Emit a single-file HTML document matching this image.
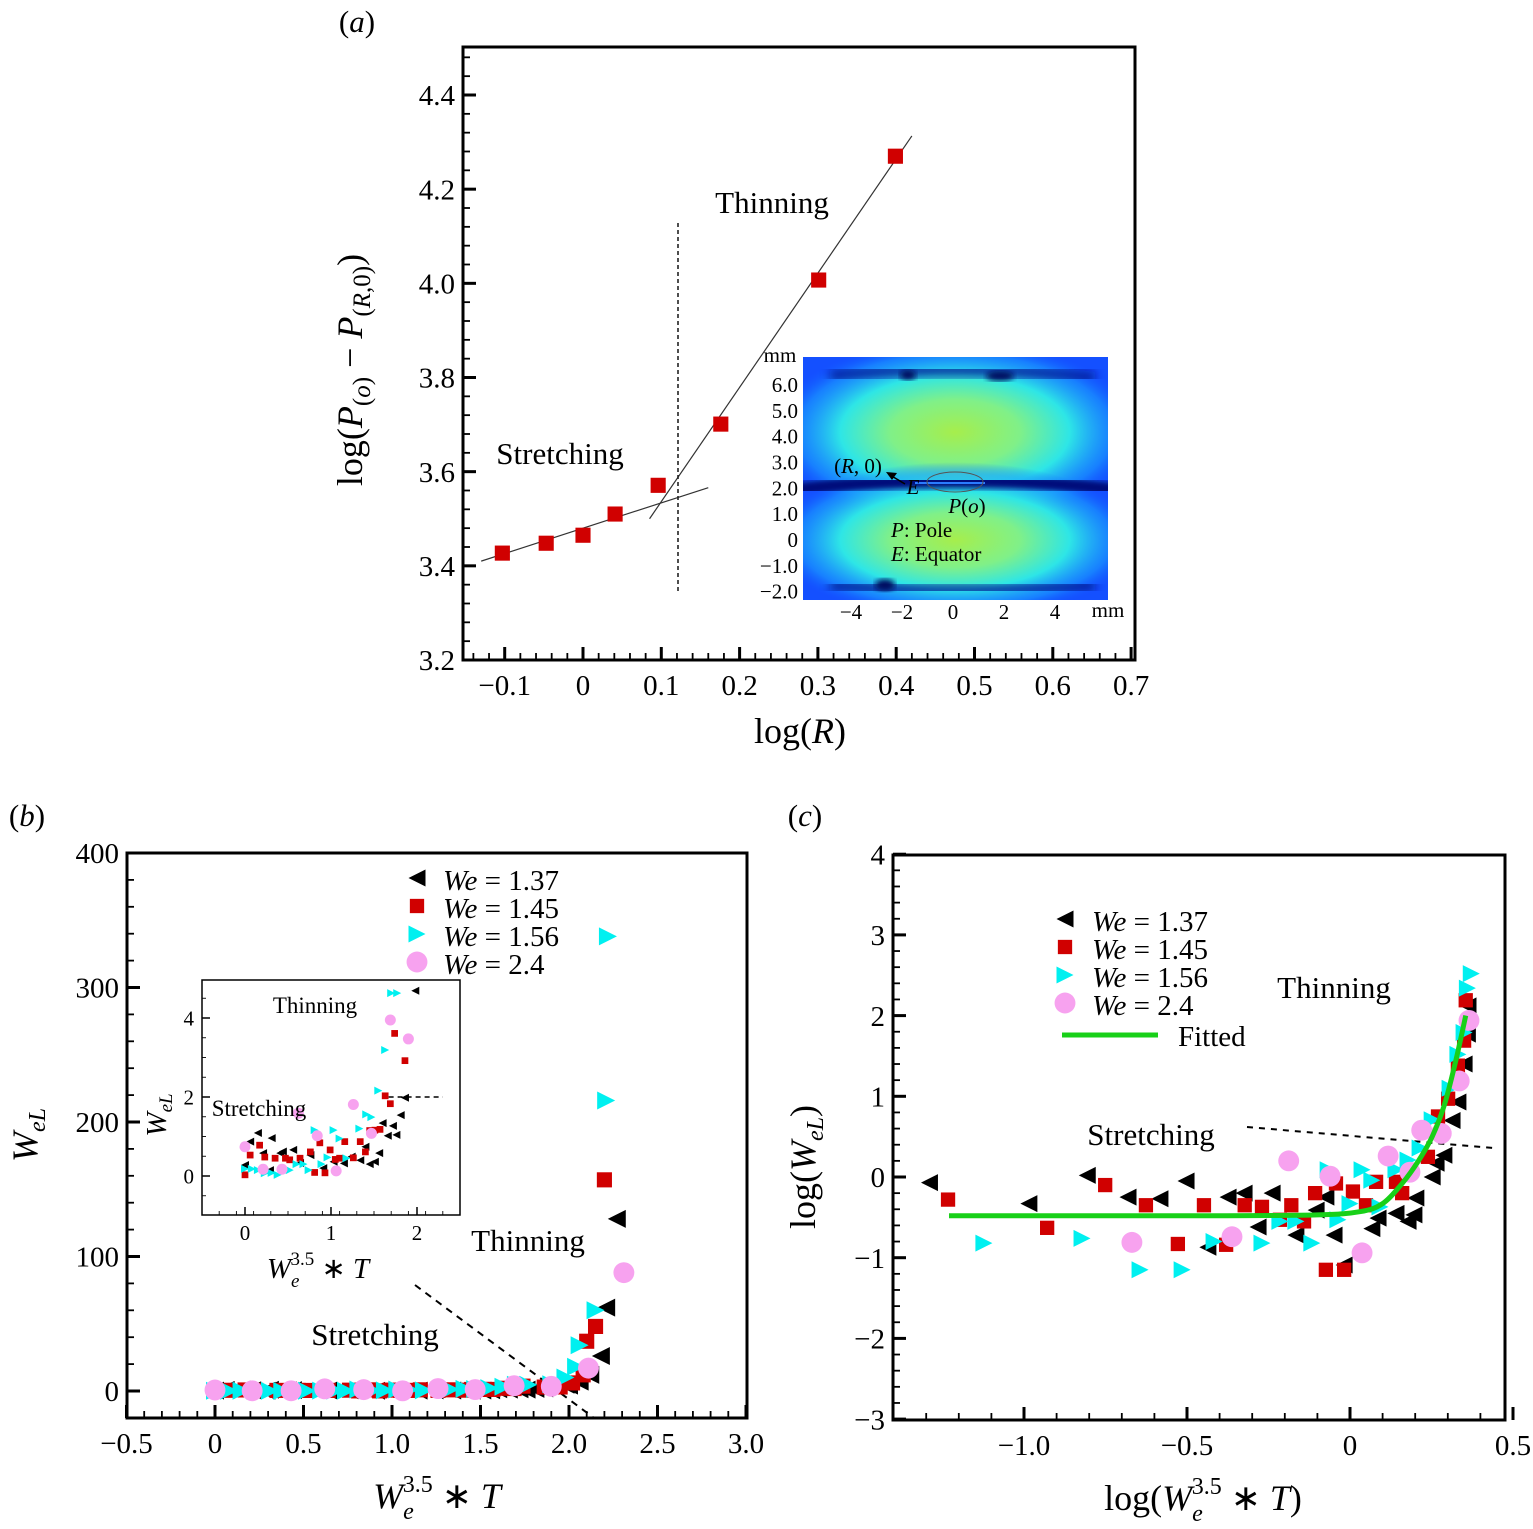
<!DOCTYPE html>
<html><head><meta charset="utf-8"><style>
html,body{margin:0;padding:0;background:#fff}
svg{display:block;font-family:"Liberation Serif",serif}
</style></head><body>
<svg id="fig" width="1533" height="1529" viewBox="0 0 1533 1529" xmlns="http://www.w3.org/2000/svg">
<defs>
<radialGradient id="lobe" cx="50%" cy="50%" r="50%">
<stop offset="0" stop-color="#a6ee4c"/><stop offset="0.35" stop-color="#80f088"/><stop offset="0.62" stop-color="#2ee6e6"/><stop offset="0.85" stop-color="#1aa0ff" stop-opacity="0.6"/><stop offset="1" stop-color="#1060ff" stop-opacity="0"/>
</radialGradient>
<filter id="blur"><feGaussianBlur stdDeviation="3"/></filter>
<filter id="blur2"><feGaussianBlur stdDeviation="5"/></filter>
<clipPath id="clipInset"><rect x="803" y="357" width="305" height="243"/></clipPath>
</defs>
<g id="root"></g>
</svg>
<script>
// ---------- Panel (a) data ----------
const aLogR = [-0.103, -0.047, 0, 0.041, 0.096, 0.176, 0.301, 0.399];
const aLogP = [3.427, 3.448, 3.465, 3.510, 3.571, 3.701, 4.007, 4.270];
const aXTicks = [-0.1, 0, 0.1, 0.2, 0.3, 0.4, 0.5, 0.6, 0.7];
const aXTickLabels = ["\u22120.1","0","0.1","0.2","0.3","0.4","0.5","0.6","0.7"];
const aYTicks = [3.2, 3.4, 3.6, 3.8, 4.0, 4.2, 4.4];
const aYTickLabels = ["3.2","3.4","3.6","3.8","4.0","4.2","4.4"];
const aStretchFit = [[-0.13, 3.41], [0.16, 3.566]];
const aThinFit = [[0.085, 3.50], [0.42, 4.313]];
// ---------- Panel (b) data ----------
const bXTicks = [-0.5, 0, 0.5, 1.0, 1.5, 2.0, 2.5, 3.0];
const bXTickLabels = ["\u22120.5","0","0.5","1.0","1.5","2.0","2.5","3.0"];
const bYTicks = [0, 100, 200, 300, 400];
const bYTickLabels = ["0","100","200","300","400"];
const b137x = [0,0.06,0.15,0.21,0.29,0.31,0.41,0.44,0.56,0.64,0.76,0.91,1.03,1.15,1.24,1.34,1.40,1.45,1.51,1.56,1.60,1.66,1.72,1.76,1.81,1.86,1.98];
const b137y = [0.28,0.87,1.09,0.58,0.15,0.96,0.58,0.62,0.66,0.33,0.53,0.20,0.36,0.32,0.49,0.40,0.74,0.30,0.36,0.58,1.34,1.02,1.27,1.04,1.54,1.98,4.69];
const b145x = [0,0.06,0.17,0.23,0.35,0.47,0.52,0.64,0.76,0.87,0.81,0.93,0.99,1.05,1.10,1.16,1.26,1.34,1.40,1.45,1.51,1.57,1.63,1.69,1.74,1.86];
const b145y = [0.03,0.53,0.78,0.48,0.45,0.45,0.41,0.45,0.61,0.84,0.09,0.08,0.66,0.42,0.45,0.87,0.46,0.87,0.61,1.15,1.16,1.18,2.03,1.83,3.61,2.92];
const b156x = [0,0.08,0.15,0.23,0.31,0.38,0.52,0.60,0.68,0.74,0.89,0.81,0.96,1.03,1.10,1.18,1.33,1.41,1.47,1.55,1.63,1.70,1.77];
const b156y = [0.18,0.18,0.15,0.07,0.08,0.03,0.15,0.30,0.30,0.15,0.30,1.16,0.47,1.16,0.95,0.45,1.20,1.56,1.49,2.16,3.19,4.63,4.63];
const b24x = [0,0.21,0.43,0.62,0.84,1.06,1.26,1.47,1.69,1.90];
const b24y = [0.74,0.17,0.17,1.59,1.02,0.13,1.81,1.08,3.95,3.47];
const bHi137x = [2.0,2.06,2.12,2.18,2.21,2.27], bHi137y = [4,7,12,26,62,128];
const bHi145x = [1.95,2.02,2.08,2.10,2.15,2.20], bHi145y = [3,6,12,37,48,157];
const bHi156x = [1.90,1.98,2.04,2.06,2.15,2.21,2.22], bHi156y = [5,10,18,34,60,216,338];
const bHi24x = [2.11,2.31], bHi24y = [17,88];
const bInXTicks=[0,1,2], bInYTicks=[0,2,4];
// ---------- Panel (c) data ----------
const cXTicks = [-1.0, -0.5, 0, 0.5];
const cXTickLabels = ["\u22121.0","\u22120.5","0","0.5"];
const cYTicks = [-3,-2,-1,0,1,2,3,4];
const cYTickLabels = ["\u22123","\u22122","\u22121","0","1","2","3","4"];
const c137x = [-1.29,-0.985,-0.806,-0.681,-0.583,-0.503,-0.374,-0.325,-0.239,-0.436,-0.282,-0.166,-0.104,-0.074,-0.049,-0.018,0.067,0.086,0.141,0.178,0.196,0.202,0.252,0.264,0.288,0.313,0.331,0.35,0.36,0.362];
const c137y = [-0.07,-0.33,0.02,-0.25,-0.27,-0.05,-0.25,-0.20,-0.20,-0.87,-0.62,-0.72,-0.41,-0.25,-0.72,-1.09,-0.64,-0.51,-0.45,-0.55,-0.47,-0.26,0.00,0.17,0.27,0.70,0.93,1.40,1.77,2.12];
const c145x = [-1.233,-0.929,-0.751,-0.626,-0.528,-0.448,-0.380,-0.323,-0.270,-0.215,-0.180,-0.141,-0.107,-0.074,-0.043,-0.018,0.009,0.049,0.080,0.141,0.160,0.239,0.270,0.301,0.331,0.350,0.355];
const c145y = [-0.28,-0.63,-0.10,-0.35,-0.83,-0.35,-0.84,-0.35,-0.37,-0.53,-0.35,-0.55,-0.20,-1.15,-0.08,-1.15,-0.18,-0.35,-0.06,-0.06,-0.20,0.25,0.75,0.97,1.38,1.69,2.19];
const c156x = [-1.123,-0.822,-0.644,-0.515,-0.417,-0.270,-0.215,-0.166,-0.117,-0.067,-0.037,0.000,0.037,0.067,0.092,0.141,0.178,0.215,0.252,0.307,0.331,0.350,0.360,0.372];
const c156y = [-0.82,-0.76,-1.15,-1.15,-0.80,-0.82,-0.55,-0.55,-0.82,0.09,-0.53,-0.33,0.09,-0.04,-0.37,0.09,0.21,0.36,0.71,1.10,1.52,1.79,2.34,2.52];
const c24x = [-0.669,-0.362,-0.188,-0.061,0.037,0.117,0.184,0.220,0.280,0.335,0.365];
const c24y = [-0.81,-0.74,0.20,0.01,-0.94,0.26,0.06,0.58,0.54,1.19,1.94];
const cFitX = [-1.23,-0.4,-0.1,0.03,0.1,0.16,0.21,0.252,0.29,0.325,0.355];
const cFitY = [-0.48,-0.48,-0.47,-0.43,-0.33,-0.08,0.2,0.50,0.9,1.45,2.0];

const NS="http://www.w3.org/2000/svg";
const root=document.getElementById('root');
function mk(tag,attrs,parent){const e=document.createElementNS(NS,tag);for(const k in attrs)e.setAttribute(k,attrs[k]);(parent||root).appendChild(e);return e;}
function lin(d0,d1,p0,p1){return v=>p0+(v-d0)*(p1-p0)/(d1-d0);}
function txt(x,y,s,size,anchor,parent,name){const t=mk('text',{x:x,y:y,'font-size':size,'text-anchor':anchor||'middle',fill:'#000'},parent);t.textContent=s;


return t;}

function axes(g,box,X,Y,xt,xl,yt,yl,xMinor,yMinor,fs,majL,minL,lw,name){
  const fr=mk('rect',{x:box.x0,y:box.y0,width:box.x1-box.x0,height:box.y1-box.y0,fill:'none',stroke:'#000','stroke-width':lw},g);
  
  
  xt.forEach((v,i)=>{const px=X(v);mk('line',{x1:px,x2:px,y1:box.y1,y2:box.y1-majL,stroke:'#000','stroke-width':lw},g);
    if(xl) txt(px,box.y1+fs*1.2,xl[i],fs,'middle',g,name+'-x-tick-label');});
  yt.forEach((v,i)=>{const py=Y(v);mk('line',{x1:box.x0,x2:box.x0+majL,y1:py,y2:py,stroke:'#000','stroke-width':lw},g);
    if(yl) txt(box.x0-8,py+fs*0.35,yl[i],fs,'end',g,name+'-y-tick-label');});
  xMinor.forEach(v=>{const px=X(v);if(px>box.x0+1&&px<box.x1-1)mk('line',{x1:px,x2:px,y1:box.y1,y2:box.y1-minL,stroke:'#000','stroke-width':lw*0.6},g);});
  yMinor.forEach(v=>{const py=Y(v);if(py>box.y0+1&&py<box.y1-1)mk('line',{x1:box.x0,x2:box.x0+minL,y1:py,y2:py,stroke:'#000','stroke-width':lw*0.6},g);});
}
function range(a,b,s){const r=[];for(let v=a;v<=b+1e-9;v+=s)r.push(+v.toFixed(6));return r;}
function weT(fs,sub){ // W_e^{3.5} * T with stacked sub/superscript
  const d=Math.round(fs*0.3), u=Math.round(fs*0.75), w=Math.round(sub*0.45);
  return `<tspan font-style="italic">W</tspan><tspan font-style="italic" font-size="${sub}" dy="${d}">e</tspan><tspan font-size="${sub}" dx="-${w}" dy="-${u}">3.5</tspan><tspan dy="${u-d}"> \u2217 </tspan><tspan font-style="italic">T</tspan>`;
}

function marker(g,type,x,y,s,name){
  let e;
  if(type==='L') e=mk('polygon',{points:`${x-s/2},${y} ${x+s/2},${y-s/2} ${x+s/2},${y+s/2}`,fill:'#000'},g);
  else if(type==='R') e=mk('polygon',{points:`${x+s/2},${y} ${x-s/2},${y-s/2} ${x-s/2},${y+s/2}`,fill:'#00f0f0'},g);
  else if(type==='S') e=mk('rect',{x:x-s*0.42,y:y-s*0.42,width:s*0.84,height:s*0.84,fill:'#d00000'},g);
  else e=mk('circle',{cx:x,cy:y,r:s*0.55,fill:'#f7a2ef'},g);
  
  
  return e;
}

// ================= Panel (a) =================
(function(){
  const g=mk('g',{});  
  const box={x0:463,x1:1135,y0:47,y1:660};
  const X=lin(0,0.1,583,661.3), Y=lin(3.2,4.4,660,95);
  axes(g,box,X,Y,aXTicks,aXTickLabels,aYTicks,aYTickLabels,range(-0.14,0.7,0.02),range(3.2,4.48,0.04),29,13,7,3,'a');
  [aStretchFit,aThinFit].forEach((f,i)=>{const l=mk('line',{x1:X(f[0][0]),y1:Y(f[0][1]),x2:X(f[1][0]),y2:Y(f[1][1]),stroke:'#333','stroke-width':1.2},g);
     });
  const dl=mk('line',{x1:678,x2:678,y1:223,y2:593,stroke:'#222','stroke-width':1.6,'stroke-dasharray':'4,3'},g);
   
  aLogR.forEach((v,i)=>marker(g,'S',X(v),Y(aLogP[i]),18,'data-point'));
  txt(772,213,'Thinning',31,'middle',g,'thinning-label');
  txt(560,464,'Stretching',31,'middle',g,'stretching-label');
  const ig=mk('g',{'clip-path':'url(#clipInset)'},g);  
  mk('rect',{x:803,y:357,width:305,height:243,fill:'#1450ff'},ig);
  mk('ellipse',{cx:955,cy:432,rx:185,ry:92,fill:'url(#lobe)'},ig);
  mk('ellipse',{cx:955,cy:540,rx:185,ry:78,fill:'url(#lobe)'},ig);
  mk('path',{d:'M795,490 C880,478 1030,478 1115,490',stroke:'#000c7a','stroke-width':14,fill:'none',filter:'url(#blur)'},ig);
  mk('path',{d:'M830,376 C900,368 1010,368 1095,378',stroke:'#00108a','stroke-width':12,fill:'none',filter:'url(#blur2)',opacity:0.8},ig);
  mk('path',{d:'M830,585 C900,592 1010,592 1095,585',stroke:'#00108a','stroke-width':12,fill:'none',filter:'url(#blur2)',opacity:0.8},ig);
  mk('ellipse',{cx:908,cy:375,rx:8,ry:5,fill:'#001060',filter:'url(#blur)'},ig);
  mk('ellipse',{cx:1000,cy:376,rx:14,ry:5,fill:'#001060',filter:'url(#blur)'},ig);
  mk('ellipse',{cx:885,cy:585,rx:10,ry:6,fill:'#001060',filter:'url(#blur)'},ig);
  mk('line',{x1:915,x2:985,y1:483,y2:483,stroke:'#2a7cff','stroke-width':2},ig);
  mk('ellipse',{cx:955,cy:482,rx:28,ry:10,fill:'none',stroke:'#555','stroke-width':1},ig);
  mk('path',{d:'M905,484 L890,475',stroke:'#000','stroke-width':1.5,fill:'none'},ig);
  mk('polygon',{points:'886,472 897,473 892,480',fill:'#000'},ig);
  const iaxX=lin(0,4,953,1055), iaxY=lin(0,6,540,385);
  [-4,-2,0,2,4].forEach(v=>txt(iaxX(v),619,v<0?'\u2212'+(-v):''+v,21,'middle',g,'inset-x-tick-label'));
  [6,5,4,3,2,1,0,-1,-2].forEach(v=>txt(798,iaxY(v)+7,v===0?'0':(v<0?'\u2212':'')+Math.abs(v).toFixed(1),21,'end',g,'inset-y-tick-label'));
  txt(780,362,'mm',21,'middle',g,'inset-y-unit'); txt(1108,617,'mm',21,'middle',g,'inset-x-unit');
  const t1=txt(858,473,'',21,'middle',g,'r-point-label'); t1.innerHTML='(<tspan font-style="italic">R</tspan>, 0)';
  const t2=txt(913,494,'E',21,'middle',g,'equator-point-label'); t2.setAttribute('font-style','italic');
  const t3=txt(967,513,'',21,'middle',g,'pole-point-label'); t3.innerHTML='<tspan font-style="italic">P</tspan>(<tspan font-style="italic">o</tspan>)';
  const t4=txt(891,537,'',21,'start',g,'pole-legend'); t4.innerHTML='<tspan font-style="italic">P</tspan>: Pole';
  const t5=txt(891,561,'',21,'start',g,'equator-legend'); t5.innerHTML='<tspan font-style="italic">E</tspan>: Equator';
  const pl=txt(357,32,'',31,'middle',g,'panel-a-label'); pl.innerHTML='(<tspan font-style="italic">a</tspan>)';
  const xl=txt(800,743,'',36,'middle',g,'a-x-axis-title'); xl.innerHTML='log(<tspan font-style="italic">R</tspan>)';
  const yl=txt(0,0,'',36,'middle',g,'a-y-axis-title');
  yl.setAttribute('transform','translate(362,370) rotate(-90)');
  yl.innerHTML='log(<tspan font-style="italic">P</tspan><tspan font-size="25" dy="8">(<tspan font-style="italic">o</tspan>)</tspan><tspan dy="-8"> \u2212 </tspan><tspan font-style="italic">P</tspan><tspan font-size="25" dy="8">(<tspan font-style="italic">R</tspan>,0)</tspan><tspan dy="-8">)</tspan>';
})();

// ================= Panel (b) =================
(function(){
  const g=mk('g',{});  
  const box={x0:127,x1:747,y0:853,y1:1418};
  const X=lin(0,1,215,392), Y=lin(0,100,1391,1256.5);
  axes(g,box,X,Y,bXTicks,bXTickLabels,bYTicks,bYTickLabels,range(-0.5,3,0.1),range(-20,400,20),29,13,7,3,'b');
  const dl=mk('line',{x1:415,y1:1285,x2:594,y2:1418,stroke:'#000','stroke-width':2,'stroke-dasharray':'7,6'},g);
   
  const series=[['L',b137x.concat(bHi137x),b137y.concat(bHi137y)],['S',b145x.concat(bHi145x),b145y.concat(bHi145y)],['R',b156x.concat(bHi156x),b156y.concat(bHi156y)],['C',b24x.concat(bHi24x),b24y.concat(bHi24y)]];
  series.forEach(s=>s[1].forEach((v,i)=>marker(g,s[0],X(v),Y(s[2][i]),s[0]==='C'?19:18,'data-point')));
  txt(528,1251,'Thinning',31,'middle',g,'thinning-label');
  txt(375,1345,'Stretching',31,'middle',g,'stretching-label');
  const labs=['1.37','1.45','1.56','2.4'], types=['L','S','R','C'];
  labs.forEach((l,i)=>{const y=880+i*28; marker(g,types[i],417,y-2,i===3?19:17,'legend-marker');
    const t=txt(443,y+10,'',29,'start',g,'legend-entry'); t.innerHTML='<tspan font-style="italic">We</tspan> = '+l;});
  const ib={x0:202,x1:460,y0:980,y1:1215};
  const gi=mk('g',{},g);  
  mk('rect',{x:ib.x0,y:ib.y0,width:ib.x1-ib.x0,height:ib.y1-ib.y0,fill:'#fff'},gi);
  const IX=lin(0,1,245,331), IY=lin(0,2,1176,1097);
  axes(gi,ib,IX,IY,bInXTicks,['0','1','2'],bInYTicks,['0','2','4'],range(-0.5,2.4,0.2),range(-1,5,0.5),21,8,4,1.5,'b-inset');
  const idl=mk('line',{x1:IX(1.67),x2:IX(2.3),y1:IY(2),y2:IY(2),stroke:'#000','stroke-width':1.5,'stroke-dasharray':'5,4'},gi);
   
  [['L',b137x,b137y],['S',b145x,b145y],['R',b156x,b156y],['C',b24x,b24y]].forEach(s=>s[1].forEach((v,i)=>marker(gi,s[0],IX(v),IY(s[2][i]),s[0]==='C'?10:8,'inset-point')));
  txt(315,1013,'Thinning',23,'middle',gi,'inset-thinning-label');
  txt(259,1116,'Stretching',23,'middle',gi,'inset-stretching-label');
  const ixl=txt(318,1278,'',29,'middle',g,'inset-x-axis-title'); ixl.innerHTML=weT(29,19);
  const iyl=txt(0,0,'',29,'middle',g,'inset-y-axis-title'); iyl.setAttribute('transform','translate(166,1115) rotate(-90)');
  iyl.innerHTML='<tspan font-style="italic">W</tspan><tspan font-style="italic" font-size="19" dy="6">eL</tspan>';
  const pl=txt(27,826,'',31,'middle',g,'panel-b-label'); pl.innerHTML='(<tspan font-style="italic">b</tspan>)';
  const xl=txt(437,1508,'',36,'middle',g,'b-x-axis-title'); xl.innerHTML=weT(36,24);
  const yl=txt(0,0,'',36,'middle',g,'b-y-axis-title'); yl.setAttribute('transform','translate(37,1135) rotate(-90)');
  yl.innerHTML='<tspan font-style="italic">W</tspan><tspan font-style="italic" font-size="24" dy="8">eL</tspan>';
})();

// ================= Panel (c) =================
(function(){
  const g=mk('g',{});  
  const box={x0:893,x1:1505,y0:855,y1:1420};
  const X=lin(0,0.5,1350,1513), Y=lin(0,1,1177,1096.3);
  axes(g,box,X,Y,cXTicks,cXTickLabels,cYTicks,cYTickLabels,range(-1.4,0.5,0.1),range(-3,4,0.2),29,13,7,3,'c');
  const dl=mk('line',{x1:1247,y1:1127,x2:1493,y2:1148,stroke:'#000','stroke-width':2,'stroke-dasharray':'6,6'},g);
   
  [['L',c137x,c137y],['S',c145x,c145y],['R',c156x,c156y],['C',c24x,c24y]].forEach(s=>s[1].forEach((v,i)=>marker(g,s[0],X(v),Y(s[2][i]),s[0]==='C'?19:17,'data-point')));
  const P=cFitX.map((v,i)=>[X(v),Y(cFitY[i])]);
  let d=`M${P[0][0]},${P[0][1]}`;
  for(let i=0;i<P.length-1;i++){const p0=P[Math.max(i-1,0)],p1=P[i],p2=P[i+1],p3=P[Math.min(i+2,P.length-1)];
    d+=` C${p1[0]+(p2[0]-p0[0])/6},${p1[1]+(p2[1]-p0[1])/6} ${p2[0]-(p3[0]-p1[0])/6},${p2[1]-(p3[1]-p1[1])/6} ${p2[0]},${p2[1]}`;}
  const fp=mk('path',{d:d,stroke:'#18d018','stroke-width':5,fill:'none'},g);
   
  txt(1334,998,'Thinning',31,'middle',g,'thinning-label');
  txt(1151,1145,'Stretching',31,'middle',g,'stretching-label');
  const labs=['1.37','1.45','1.56','2.4'], types=['L','S','R','C'];
  labs.forEach((l,i)=>{const y=921+i*28; marker(g,types[i],1065,y-2,i===3?19:17,'legend-marker');
    const t=txt(1092,y+10,'',29,'start',g,'legend-entry'); t.innerHTML='<tspan font-style="italic">We</tspan> = '+l;});
  const ll=mk('line',{x1:1062,x2:1158,y1:1035,y2:1035,stroke:'#18d018','stroke-width':5},g);
   
  txt(1178,1046,'Fitted',29,'start',g,'legend-fitted-label');
  const pl=txt(805,826,'',31,'middle',g,'panel-c-label'); pl.innerHTML='(<tspan font-style="italic">c</tspan>)';
  const xl=txt(1203,1510,'',36,'middle',g,'c-x-axis-title'); xl.innerHTML='log('+weT(36,24)+')';
  const yl=txt(0,0,'',36,'middle',g,'c-y-axis-title'); yl.setAttribute('transform','translate(815,1167) rotate(-90)');
  yl.innerHTML='log(<tspan font-style="italic">W</tspan><tspan font-style="italic" font-size="24" dy="8">eL</tspan><tspan dy="-8">)</tspan>';
})();
</script>
</body></html>
